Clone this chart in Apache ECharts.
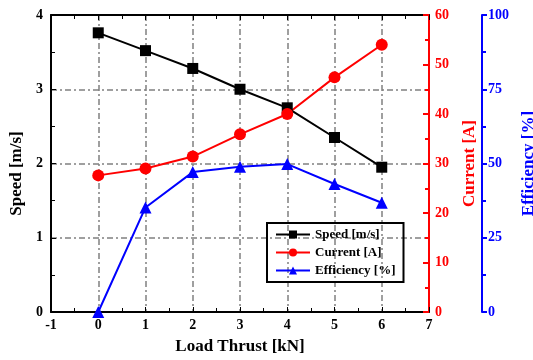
<!DOCTYPE html>
<html>
<head>
<meta charset="utf-8">
<script src="https://cdn.jsdelivr.net/npm/echarts@6/dist/echarts.min.js"></script>
<style>
  html, body { margin: 0; padding: 0; background: #fff; }
  #chart { width: 533px; height: 360px; }
</style>
</head>
<body>
<div id="chart"></div>
<script>
// 横轴：负载推力 (kN)
const thrust = [0, 1, 2, 3, 4, 5, 6];
const speed = [3.76, 3.52, 3.28, 3.0, 2.75, 2.35, 1.95];
const current = [27.6, 29.0, 31.4, 35.9, 40.0, 47.4, 54.0];
const efficiency = [0, 35.2, 47.1, 48.9, 49.8, 43.1, 36.8];

const FONT = '"Liberation Serif", "DejaVu Serif", serif';
const gridDash = [6, 3, 2, 3];

function pairs(ys) {
    return thrust.map((x, i) => [x, ys[i]]);
}

const chart = echarts.init(document.getElementById('chart'));
chart.setOption({
    animation: false,
    textStyle: { fontFamily: FONT },
    grid: { left: 51, right: 104, top: 15, bottom: 48, outerBoundsMode: 'none', containLabel: false },
    legend: {
        left: 267,
        top: 223,
        orient: 'vertical',
        borderColor: '#000',
        borderWidth: 2,
        padding: [5, 8, 5, 8],
        itemGap: 5,
        itemWidth: 34,
        itemHeight: 10,
        textStyle: { fontFamily: FONT, fontSize: 13, color: '#000', fontWeight: 'bold' },
        data: ['Speed [m/s]', 'Current [A]', 'Efficiency [%]']
    },
    xAxis: [
        {
            type: 'value',
            min: -1,
            max: 7,
            interval: 1,
            name: 'Load Thrust [kN]',
            nameLocation: 'middle',
            nameGap: 26,
            nameTextStyle: { fontFamily: FONT, fontSize: 17, fontWeight: 'bold', color: '#000' },
            axisLine: { onZero: false, lineStyle: { color: '#000', width: 2 } },
            axisTick: { inside: true, length: 5, lineStyle: { color: '#000' } },
            minorTick: { show: true, splitNumber: 2, length: 4, lineStyle: { color: '#000' } },
            axisLabel: { fontFamily: FONT, fontSize: 14, fontWeight: 'bold', color: '#000', margin: 6 },
            splitLine: { show: true, lineStyle: { color: '#808080', type: gridDash, width: 1.5 } }
        },
        {
            type: 'value',
            position: 'top',
            min: -1,
            max: 7,
            interval: 1,
            axisLine: { onZero: false, lineStyle: { color: '#000', width: 2 } },
            axisTick: { inside: true, length: 5, lineStyle: { color: '#000' } },
            minorTick: { show: true, splitNumber: 2, length: 4, lineStyle: { color: '#000' } },
            axisLabel: { show: false },
            splitLine: { show: false }
        }
    ],
    yAxis: [
        {
            type: 'value',
            min: 0,
            max: 4,
            interval: 1,
            name: 'Speed [m/s]',
            nameLocation: 'middle',
            nameGap: 24,
            nameTextStyle: { fontFamily: FONT, fontSize: 17, fontWeight: 'bold', color: '#000', padding: [0, 0, 0, -20] },
            axisLine: { show: true, onZero: false, lineStyle: { color: '#000', width: 2 } },
            axisTick: { inside: true, length: 5, lineStyle: { color: '#000' } },
            minorTick: { show: true, splitNumber: 2, length: 4, lineStyle: { color: '#000' } },
            axisLabel: { fontFamily: FONT, fontSize: 14, fontWeight: 'bold', color: '#000', margin: 8 },
            splitLine: { show: true, lineStyle: { color: '#808080', type: gridDash, width: 1.5 } }
        },
        {
            type: 'value',
            position: 'right',
            min: 0,
            max: 60,
            interval: 10,
            name: 'Current [A]',
            nameLocation: 'middle',
            nameGap: 32,
            nameTextStyle: { fontFamily: FONT, fontSize: 17, fontWeight: 'bold', color: '#ff0000' },
            axisLine: { show: true, onZero: false, lineStyle: { color: '#ff0000', width: 2 } },
            axisTick: { inside: true, length: 6, lineStyle: { color: '#ff0000', width: 2 } },
            minorTick: { show: true, splitNumber: 2, length: 4, lineStyle: { color: '#ff0000', width: 2 } },
            axisLabel: { fontFamily: FONT, fontSize: 14, fontWeight: 'bold', color: '#ff0000', margin: 6 },
            splitLine: { show: false }
        },
        {
            type: 'value',
            position: 'right',
            offset: 53,
            min: 0,
            max: 100,
            interval: 25,
            name: 'Efficiency [%]',
            nameLocation: 'middle',
            nameGap: 38,
            nameTextStyle: { fontFamily: FONT, fontSize: 17, fontWeight: 'bold', color: '#0000ff' },
            axisLine: { show: true, onZero: false, lineStyle: { color: '#0000ff', width: 2 } },
            axisTick: { inside: false, length: 5, lineStyle: { color: '#0000ff', width: 2 } },
            minorTick: { show: true, splitNumber: 2, length: 4, lineStyle: { color: '#0000ff', width: 2 } },
            axisLabel: { fontFamily: FONT, fontSize: 14, fontWeight: 'bold', color: '#0000ff', margin: 6 },
            splitLine: { show: false }
        }
    ],
    series: [
        {
            name: 'Speed [m/s]',
            type: 'line',
            yAxisIndex: 0,
            symbol: 'rect',
            symbolSize: 11,
            itemStyle: { color: '#000' },
            lineStyle: { color: '#000', width: 2 },
            data: pairs(speed)
        },
        {
            name: 'Current [A]',
            type: 'line',
            yAxisIndex: 1,
            symbol: 'circle',
            symbolSize: 12,
            itemStyle: { color: '#ff0000' },
            lineStyle: { color: '#ff0000', width: 2 },
            data: pairs(current)
        },
        {
            name: 'Efficiency [%]',
            type: 'line',
            yAxisIndex: 2,
            symbol: 'triangle',
            symbolSize: 12,
            itemStyle: { color: '#0000ff' },
            lineStyle: { color: '#0000ff', width: 2 },
            data: pairs(efficiency)
        }
    ]
});
</script>
</body>
</html>
